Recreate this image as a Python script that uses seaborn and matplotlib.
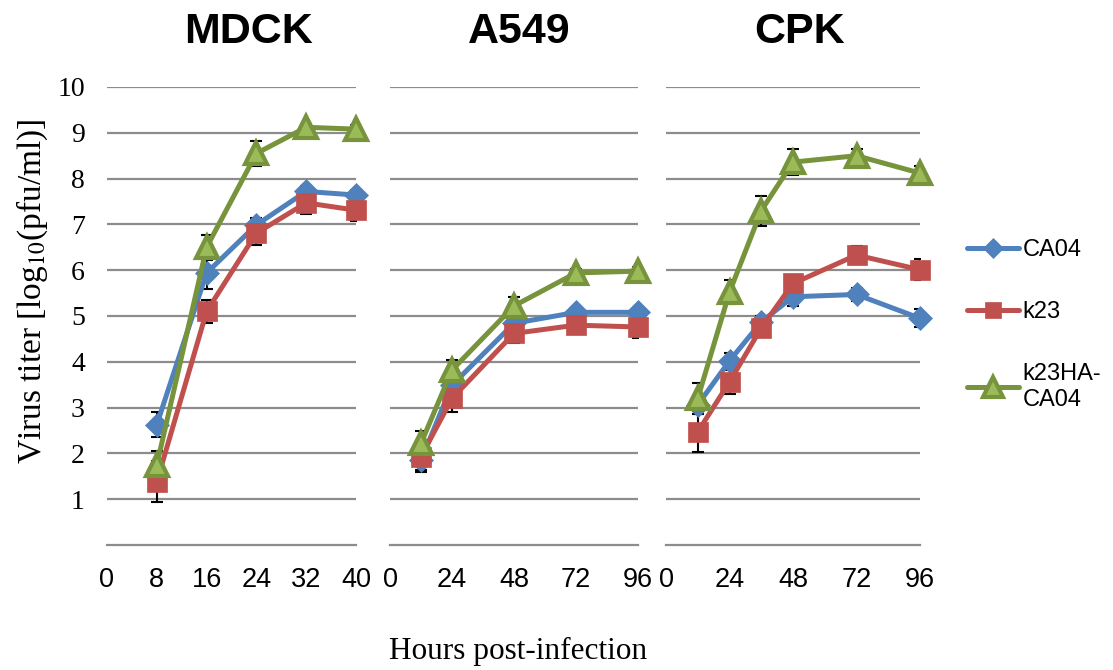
import numpy as np
import pandas as pd
import matplotlib
matplotlib.use("Agg")
import matplotlib.pyplot as plt
import seaborn as sns

# ---- data -------------------------------------------------------------
series = ["CA04", "k23", "k23HA-CA04"]
legend_labels = ["CA04", "k23", "k23HA-\nCA04"]
panel_names = ["MDCK", "A549", "CPK"]

mdck_hours = [8, 16, 24, 32, 40]
mdck_ca04 = [2.63, 5.94, 6.99, 7.72, 7.64]
mdck_k23 = [1.38, 5.10, 6.81, 7.47, 7.31]
mdck_ha = [1.75, 6.50, 8.55, 9.12, 9.08]
mdck_ca04_err = [0.28, 0.35, 0.15, 0.12, 0.12]
mdck_k23_err = [0.45, 0.25, 0.27, 0.25, 0.24]
mdck_ha_err = [0.30, 0.27, 0.27, 0.08, 0.08]

a549_hours = [12, 24, 48, 72, 96]
a549_ca04 = [1.85, 3.49, 4.84, 5.08, 5.08]
a549_k23 = [1.93, 3.20, 4.62, 4.80, 4.76]
a549_ha = [2.22, 3.82, 5.22, 5.94, 5.98]
a549_ca04_err = [0.25, 0.15, 0.15, 0.08, 0.08]
a549_k23_err = [0.30, 0.30, 0.22, 0.10, 0.23]
a549_ha_err = [0.28, 0.22, 0.20, 0.08, 0.10]

cpk_hours = [12, 24, 36, 48, 72, 96]
cpk_ca04 = [3.06, 4.02, 4.87, 5.42, 5.47, 4.95]
cpk_k23 = [2.47, 3.56, 4.74, 5.71, 6.33, 6.01]
cpk_ha = [3.20, 5.52, 7.30, 8.36, 8.50, 8.12]
cpk_ca04_err = [0.20, 0.18, 0.12, 0.20, 0.15, 0.20]
cpk_k23_err = [0.45, 0.26, 0.15, 0.10, 0.20, 0.23]
cpk_ha_err = [0.33, 0.26, 0.33, 0.28, 0.15, 0.15]

x_ticks = [[0, 8, 16, 24, 32, 40], [0, 24, 48, 72, 96], [0, 24, 48, 72, 96]]
x_limits = [(0, 40), (0, 96), (0, 96)]
y_ticks = list(range(1, 11))

panels = [
    (mdck_hours, [mdck_ca04, mdck_k23, mdck_ha], [mdck_ca04_err, mdck_k23_err, mdck_ha_err]),
    (a549_hours, [a549_ca04, a549_k23, a549_ha], [a549_ca04_err, a549_k23_err, a549_ha_err]),
    (cpk_hours, [cpk_ca04, cpk_k23, cpk_ha], [cpk_ca04_err, cpk_k23_err, cpk_ha_err]),
]

# ---- styling ----------------------------------------------------------
sns.set_style("white")
plt.rcParams["font.family"] = ["Liberation Sans", "DejaVu Sans"]
plt.rcParams["mathtext.fontset"] = "stix"
plt.rcParams["text.color"] = "black"
plt.rcParams["xtick.labelcolor"] = "black"
plt.rcParams["ytick.labelcolor"] = "black"

serif = ["Liberation Serif", "DejaVu Serif"]
line_colors = ["#4F81BD", "#C0504D", "#77933C"]
face_colors = ["#4F81BD", "#C0504D", "#9BBB59"]
markers = ["D", "s", "^"]
marker_sizes = [12, 14, 16]
edge_widths = [0.5, 0.5, 3.0]
grid_color = "#8C8C8C"

fig = plt.figure(figsize=(11.13, 6.70), dpi=100)
W, H = 1113, 670
axes_px = [(107, 356), (390, 638), (666, 920)]
y_top, y_bottom = 87, 545
title_x = [0.57, 0.52, 0.525]

axes = []
for x0, x1 in axes_px:
    ax = fig.add_axes([x0 / W, (H - y_bottom) / H, (x1 - x0) / W, (y_bottom - y_top) / H])
    axes.append(ax)

for i, ax in enumerate(axes):
    hours, values, errs = panels[i]
    for gy in y_ticks:
        ax.axhline(gy, color=grid_color, lw=1.6, zorder=0)
    for j, name in enumerate(series):
        ax.errorbar(hours, values[j], yerr=errs[j], fmt="none", ecolor="black",
                    elinewidth=1.5, capsize=4, capthick=1.5, zorder=1 + j * 0.01)
    for j, name in enumerate(series):
        df = pd.DataFrame({"hours": hours, "titer": values[j]})
        sns.lineplot(data=df, x="hours", y="titer", ax=ax, color=line_colors[j],
                     lw=3.6, marker=markers[j], markersize=marker_sizes[j],
                     markerfacecolor=face_colors[j], markeredgecolor=line_colors[j],
                     markeredgewidth=edge_widths[j], zorder=3 + j, clip_on=False,
                     legend=False)
    ax.set_xlim(*x_limits[i])
    ax.set_ylim(0, 10)
    ax.set_xticks(x_ticks[i])
    ax.set_xticklabels([str(t) for t in x_ticks[i]], fontsize=19.5)
    ax.set_yticks(y_ticks)
    ax.set_xlabel("")
    ax.set_ylabel("")
    for side in ["top", "right", "left"]:
        ax.spines[side].set_visible(False)
    ax.spines["bottom"].set_color(grid_color)
    ax.spines["bottom"].set_linewidth(1.6)
    ax.tick_params(axis="x", direction="out", length=7, width=1.6, color=grid_color, pad=9)
    if i == 0:
        ax.set_yticklabels([str(t) for t in y_ticks], fontsize=20, family=serif)
        ax.tick_params(axis="y", length=0, pad=16)
    else:
        ax.set_yticklabels([])
        ax.tick_params(axis="y", length=0)
    ax.text(title_x[i], 1.12, panel_names[i], transform=ax.transAxes, ha="center",
            va="center", fontsize=31, fontweight="bold")

fig.text(32 / W, (H - 291) / H, r"Virus titer [log$_{10}$(pfu/ml)]", rotation=90,
         ha="center", va="center", fontsize=24, family=serif)
fig.text(518 / W, (H - 651) / H, "Hours post-infection", ha="center", va="center",
         fontsize=22.5, family=serif)

handles = [
    plt.Line2D([], [], color=line_colors[j], lw=3.6, marker=markers[j],
               markersize=marker_sizes[j] - 2, markerfacecolor=face_colors[j],
               markeredgecolor=line_colors[j], markeredgewidth=edge_widths[j])
    for j in range(len(series))
]
fig.legend(handles, legend_labels, loc="center left", bbox_to_anchor=(967 / W, (H - 325) / H),
           frameon=False, fontsize=17, handlelength=2.2, handletextpad=0.15,
           labelspacing=1.7, borderpad=0, borderaxespad=0)

fig.savefig("out.png", dpi=100)
